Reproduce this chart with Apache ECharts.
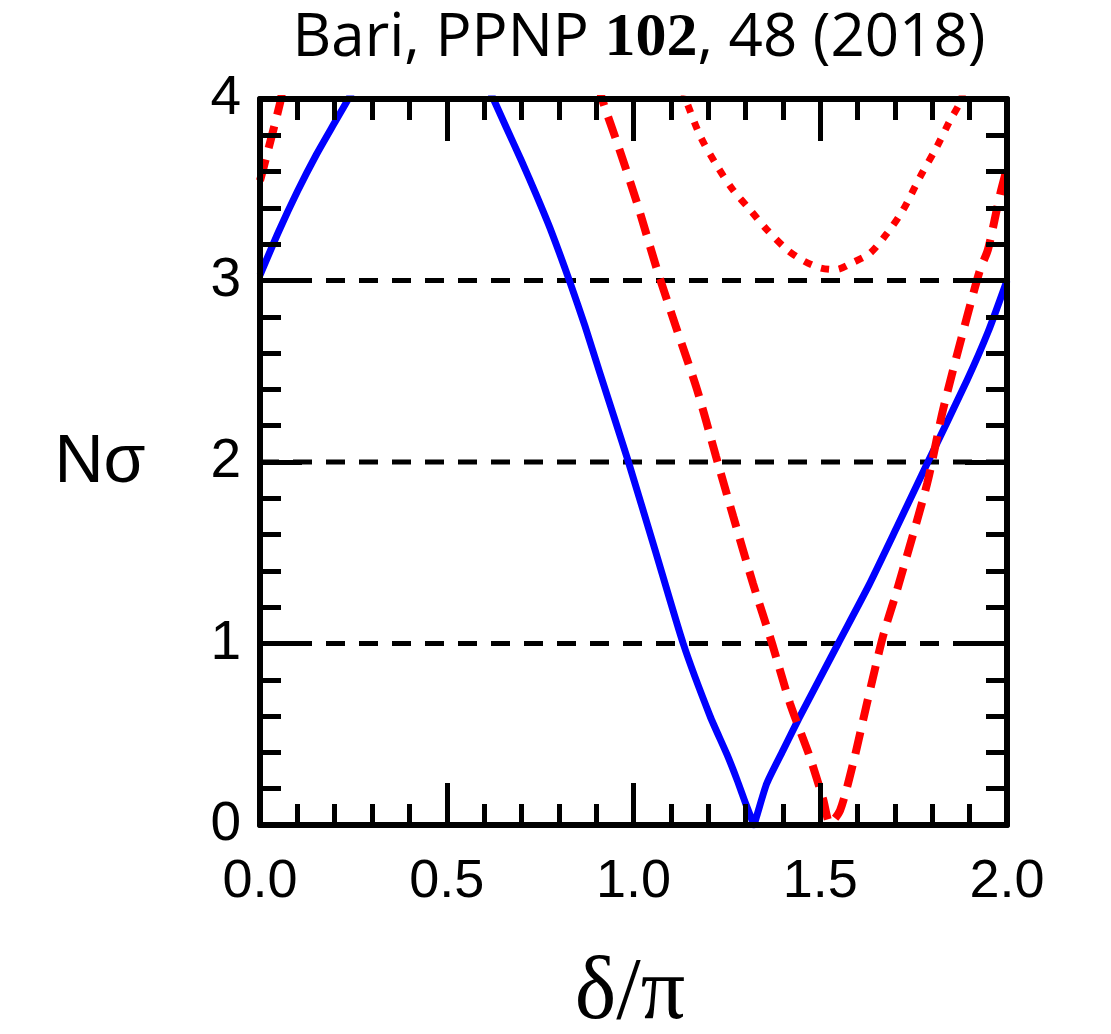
<!DOCTYPE html>
<html><head><meta charset="utf-8">
<script src="https://cdn.jsdelivr.net/npm/echarts@6/dist/echarts.min.js"></script>
<style>html,body{margin:0;padding:0;background:#fff}#c{width:1111px;height:1034px}</style>
</head><body><div id="c"></div>
<script>
// Sigma levels of the dashed reference lines
const sigmaLevels = [1, 2, 3];

// Blue solid curve (delta/pi, N sigma); null = outside plotted range
const blueX = [0.0, 0.05, 0.10, 0.15, 0.20, 0.228, 0.25, 0.43, 0.61, 0.625, 0.66, 0.70, 0.74, 0.78, 0.83, 0.87, 0.91, 0.985, 1.06, 1.133, 1.205, 1.250, 1.277, 1.300, 1.315, 1.322, 1.330, 1.357, 1.400, 1.446, 1.548, 1.630, 1.705, 1.786, 1.893, 1.95, 2.0];
const blueY = [3.03, 3.27, 3.49, 3.69, 3.87, 3.97, 4.05, null, 4.07, 4.0, 3.84, 3.66, 3.47, 3.27, 2.99, 2.75, 2.49, 2.01, 1.50, 1.00, 0.60, 0.39, 0.25, 0.12, 0.04, 0.0, 0.05, 0.23, 0.41, 0.60, 1.00, 1.32, 1.64, 1.99, 2.45, 2.72, 3.0];

// Red dashed curve
const redX = [0.0, 0.008, 0.054, 0.062, 0.5, 0.905, 0.919, 0.956, 1.009, 1.063, 1.116, 1.170, 1.221, 1.267, 1.320, 1.371, 1.419, 1.473, 1.508, 1.526, 1.553, 1.588, 1.625, 1.668, 1.705, 1.786, 1.829, 1.893, 1.928, 1.949, 1.981, 2.0];
const redY = [3.55, 3.61, 3.98, 4.08, null, 4.08, 3.98, 3.76, 3.43, 3.06, 2.73, 2.40, 2.03, 1.70, 1.33, 1.00, 0.67, 0.37, 0.14, 0.01, 0.08, 0.34, 0.67, 1.04, 1.29, 1.88, 2.29, 2.80, 3.06, 3.17, 3.47, 3.62];

// Red dotted curve
const dotX = [1.13, 1.143, 1.18, 1.224, 1.266, 1.312, 1.357, 1.411, 1.454, 1.499, 1.540, 1.588, 1.633, 1.679, 1.722, 1.767, 1.813, 1.847, 1.874, 1.885];
const dotY = [4.06, 3.98, 3.79, 3.63, 3.50, 3.39, 3.28, 3.17, 3.11, 3.07, 3.06, 3.10, 3.15, 3.26, 3.39, 3.57, 3.74, 3.88, 3.98, 4.06];

const zip = (xs, ys) => xs.map((x, i) => [x, ys[i] === null ? '-' : ys[i]]);

const chart = echarts.init(document.getElementById('c'), null, {renderer: 'canvas'});

function axisCommon() {
  return {
    type: 'value',
    axisLine: {show: true, onZero: false, lineStyle: {color: '#000', width: 6}},
    axisTick: {show: true, inside: true, length: 42, lineStyle: {color: '#000', width: 5}},
    minorTick: {show: true, splitNumber: 5, length: 21, lineStyle: {color: '#000', width: 5}},
    splitLine: {show: false},
    minorSplitLine: {show: false},
    z: 3
  };
}

const guideSeries = sigmaLevels.map(v => ({
  type: 'line',
  data: [[0, v], [2, v]],
  symbol: 'none',
  silent: true,
  z: 1,
  lineStyle: {color: '#000', width: 5, type: [19, 14], cap: 'butt'}
}));

chart.setOption({
  animation: false,
  backgroundColor: '#fff',
  title: {
    text: '{a|Bari, PPNP }{b|102}{a|, 48 (2018)}',
    left: 634,
    textAlign: 'center',
    top: 3,
    textStyle: {
      fontWeight: 'normal',
      rich: {
        a: {fontFamily: 'Open Sans', fontWeight: 'normal', fontSize: 60, color: '#000'},
        b: {fontFamily: 'Liberation Serif', fontWeight: 'bold', fontSize: 62, color: '#000'}
      }
    }
  },
  grid: {left: 260, right: 104, top: 99, bottom: 209, containLabel: false},
  xAxis: [
    Object.assign(axisCommon(), {
      position: 'bottom', min: 0, max: 2, interval: 0.5,
      axisLabel: {show: true, margin: 30, fontSize: 54, color: '#000', fontFamily: 'Liberation Sans',
        formatter: v => v.toFixed(1)}
    }),
    Object.assign(axisCommon(), {
      position: 'top', min: 0, max: 2, interval: 0.5, axisLabel: {show: false}
    })
  ],
  yAxis: [
    Object.assign(axisCommon(), {
      position: 'left', min: 0, max: 4, interval: 1,
      axisLabel: {show: true, margin: 19, fontSize: 55, color: '#000', fontFamily: 'Liberation Sans',
        formatter: v => String(v)}
    }),
    Object.assign(axisCommon(), {
      position: 'right', min: 0, max: 4, interval: 1, axisLabel: {show: false}
    })
  ],
  graphic: [
    {type: 'text', x: 100, y: 463, style: {text: 'Nσ', fontFamily: 'Liberation Sans', fontSize: 68,
      fill: '#000', align: 'center', verticalAlign: 'middle'}},
    {type: 'text', x: 630, y: 995, style: {text: 'δ/π', fontFamily: 'Liberation Serif', fontSize: 88,
      fill: '#000', align: 'center', verticalAlign: 'middle'}}
  ],
  series: guideSeries.concat([
    {
      type: 'line', data: zip(blueX, blueY), symbol: 'none', z: 2, clip: true, smooth: 0.2,
      lineStyle: {color: '#0000ff', width: 7, cap: 'butt', join: 'round'}
    },
    {
      type: 'line', data: zip(redX, redY), symbol: 'none', z: 2, clip: true, smooth: 0.25,
      lineStyle: {color: '#ff0000', width: 8, type: [22, 12], cap: 'butt'}
    },
    {
      type: 'line', data: zip(dotX, dotY), symbol: 'none', z: 2, clip: true, smooth: 0.3,
      lineStyle: {color: '#ff0000', width: 7, type: [8, 10], cap: 'butt'}
    }
  ])
});
</script>
</body></html>
